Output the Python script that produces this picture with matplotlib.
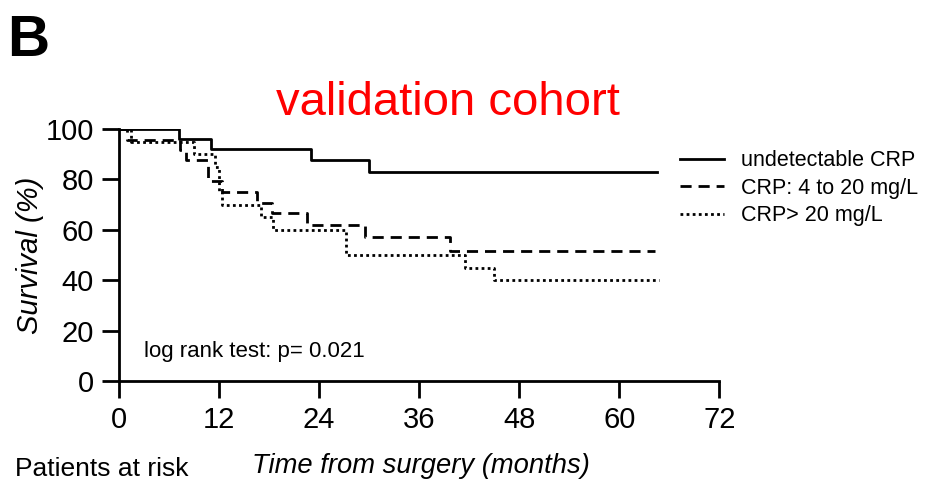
import matplotlib
matplotlib.use("Agg")
import matplotlib.pyplot as plt

plt.rcParams['font.family'] = ['Liberation Sans', 'DejaVu Sans']

# survival step data (months, %)
t_undet = [0, 7.2, 11.0, 23.0, 30.0, 64.5]
s_undet = [100, 96, 92, 87.6, 82.8, 82.8]

t_mid = [0, 1.0, 7.3, 8.0, 10.7, 12.3, 16.5, 18.3, 22.5, 29.5, 39.7, 64.3]
s_mid = [100, 95.8, 91.7, 87.5, 79.2, 75.0, 70.8, 66.7, 62.0, 57.0, 51.7, 51.7]

t_high = [0, 1.5, 9.0, 11.5, 12.0, 12.3, 17.0, 18.5, 27.2, 41.5, 45.0, 64.8]
s_high = [100, 95, 90, 85, 75, 70, 65, 60, 50, 45, 40, 40]

labels = ["undetectable CRP", "CRP: 4 to 20 mg/L", "CRP> 20 mg/L"]
xticks = [0, 12, 24, 36, 48, 60, 72]
yticks = [0, 20, 40, 60, 80, 100]

fig = plt.figure(figsize=(9.44, 4.83), dpi=100)
ax = fig.add_axes([0.126, 0.211, 0.636, 0.522])

ax.step(t_undet, s_undet, where='post', color='black', lw=2, label=labels[0])
ax.step(t_mid, s_mid, where='post', color='black', lw=2, ls=(0, (4, 2.5)), label=labels[1])
ax.step(t_high, s_high, where='post', color='black', lw=2, ls=(0, (1, 1.2)), label=labels[2])

ax.set_xlim(0, 72)
ax.set_ylim(0, 100)
ax.set_xticks(xticks)
ax.set_yticks(yticks)
ax.tick_params(length=12, width=2, pad=6, labelsize=21)
ax.spines['top'].set_visible(False)
ax.spines['right'].set_visible(False)
ax.spines['left'].set_linewidth(2)
ax.spines['bottom'].set_linewidth(2)

ax.set_ylabel("Survival (%)", fontsize=21, style='italic')
ax.yaxis.set_label_coords(-0.124, 0.50)
ax.text(3.0, 9.5, "log rank test: p= 0.021", fontsize=16)

leg = ax.legend(loc='upper left', bbox_to_anchor=(0.902, 0.992), frameon=False,
                fontsize=15.5, handlelength=2.05, labelspacing=0.3, handletextpad=0.8)

fig.text(0.474, 0.762, "validation cohort", color='red', fontsize=34, ha='center')
fig.text(0.008, 0.885, "B", fontsize=42, fontweight='bold')
fig.text(0.016, 0.014, "Patients at risk", fontsize=19)
fig.text(0.267, 0.02, "Time from surgery (months)", fontsize=19.7, style='italic')

fig.savefig("out.png", dpi=100)
